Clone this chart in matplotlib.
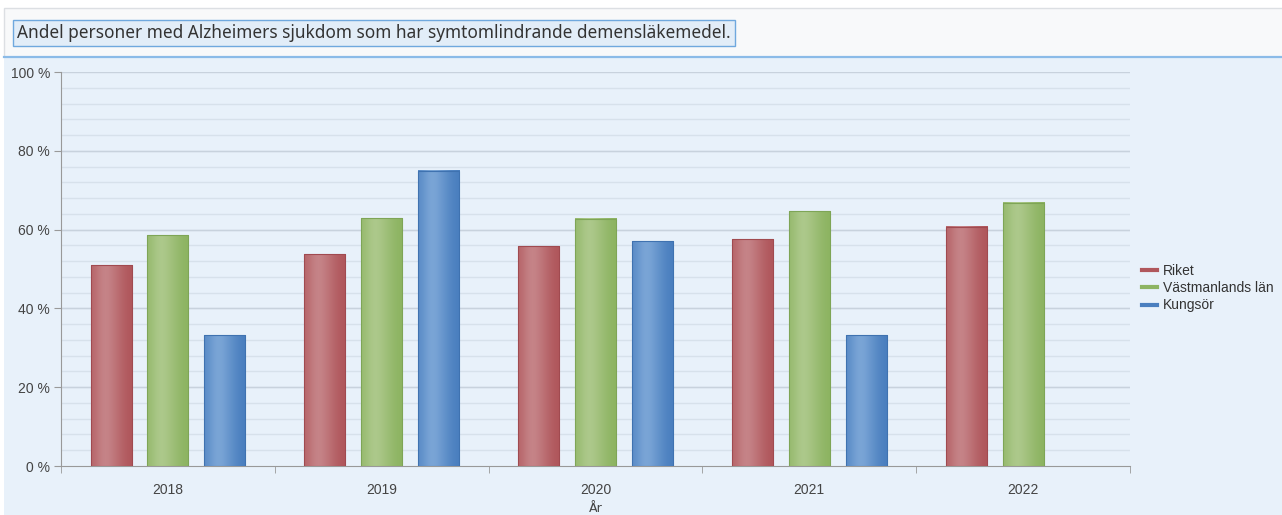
import matplotlib
matplotlib.use('Agg')
import matplotlib.pyplot as plt
import numpy as np
from matplotlib.colors import LinearSegmentedColormap
from matplotlib.lines import Line2D
from matplotlib.patches import Rectangle

years = ['2018', '2019', '2020', '2021', '2022']
series = ['Riket', 'Västmanlands län', 'Kungsör']
riket = [51.0, 53.8, 55.8, 57.6, 60.7]
vastmanland = [58.6, 62.9, 62.7, 64.7, 66.8]
kungsor = [33.2, 74.9, 57.1, 33.2, None]
title = 'Andel personer med Alzheimers sjukdom som har symtomlindrande demensläkemedel.'

# (dark, light, edge) per series
colors = [('#b0575c', '#c7878b', '#a04a50'),
          ('#8db462', '#afca8e', '#7ea556'),
          ('#4a7fbf', '#7ea8d8', '#3f72b0')]

W, H = 1282, 515
fig = plt.figure(figsize=(W / 100, H / 100), dpi=100, facecolor='white')

# header band and plot background
fig.patches.append(Rectangle((4 / W, 1 - 57 / H), 1, 49 / H, transform=fig.transFigure,
                             facecolor='#f8f9fa', edgecolor='#dcdfe3', lw=1, zorder=-2))
fig.patches.append(Rectangle((4 / W, 0), 1, 1 - 57 / H, transform=fig.transFigure,
                             facecolor='#e8f1fa', edgecolor='none', zorder=-2))
fig.add_artist(Line2D([4 / W, 1], [1 - 57 / H, 1 - 57 / H], transform=fig.transFigure,
                      color='#8bbbe8', lw=1.6))
fig.text(17 / W, 1 - 33 / H, title, family=['Noto Sans', 'DejaVu Sans'], fontsize=12.4,
         color='#333333', va='center', ha='left',
         bbox=dict(boxstyle='square,pad=0.25', facecolor='#e2edf8', edgecolor='#6fa8de', lw=1))

ax = fig.add_axes([61 / W, 49 / H, (1130 - 61) / W, (466 - 72) / H])
ax.set_zorder(2)
ax.set_facecolor('#e8f1fa')

x = np.arange(len(years))
width = 0.192
offsets = [-0.266, 0, 0.266]
grad = np.array([[0.35, 0.6, 0.85, 0.95, 0.85, 0.65, 0.45, 0.25, 0.1, 0.0]])

for vals, off, (dark, light, edge) in zip([riket, vastmanland, kungsor], offsets, colors):
    cmap = LinearSegmentedColormap.from_list('g', [dark, light])
    for xi, v in zip(x, vals):
        if v is None:
            continue
        b = ax.bar(xi + off, v, width, facecolor='none', edgecolor=edge, lw=0.8, zorder=4)[0]
        ax.imshow(grad, cmap=cmap, vmin=0, vmax=1, aspect='auto', interpolation='bicubic',
                  extent=(b.get_x(), b.get_x() + b.get_width(), 0, b.get_height()), zorder=3)

ax.set_xlim(-0.5, len(years) - 0.5)
ax.set_ylim(0, 100)

# grid
for g in np.arange(4, 100, 4):
    ax.axhline(g, color='#d7e1eb', lw=1, zorder=1)
for g in range(20, 101, 20):
    ax.axhline(g, color='#c8d2dd', lw=1, zorder=1)

ax.set_yticks(range(0, 101, 20))
ax.set_yticklabels([f'{v} %' for v in range(0, 101, 20)])
ax.set_xticks(x)
ax.set_xticklabels(years)
ax.set_xticks(np.arange(-0.5, len(years), 1), minor=True)
ax.tick_params(axis='x', which='major', length=0, pad=12, labelsize=10, labelcolor='#444444')
ax.tick_params(axis='x', which='minor', length=5, color='#999999')
ax.tick_params(axis='y', length=5, color='#999999', labelsize=10, labelcolor='#444444', pad=3)
for s in ['top', 'right']:
    ax.spines[s].set_visible(False)
for s in ['left', 'bottom']:
    ax.spines[s].set_color('#999999')
ax.set_xlabel('År', fontsize=9, color='#444444', labelpad=4)

for t in ax.get_xticklabels() + ax.get_yticklabels():
    t.set_family(['Liberation Sans', 'DejaVu Sans'])

handles = [Line2D([], [], color=c[0], lw=3) for c in colors]
leg = fig.legend(handles, series, loc='upper left', bbox_to_anchor=(1136 / W, 1 - 258 / H),
                 frameon=False, handlelength=1.1, handletextpad=0.45, labelspacing=0.25,
                 borderaxespad=0, prop={'family': ['Liberation Sans', 'DejaVu Sans'], 'size': 10})
for t in leg.get_texts():
    t.set_color('#333333')

fig.savefig('out.png', dpi=100, facecolor=fig.get_facecolor())
